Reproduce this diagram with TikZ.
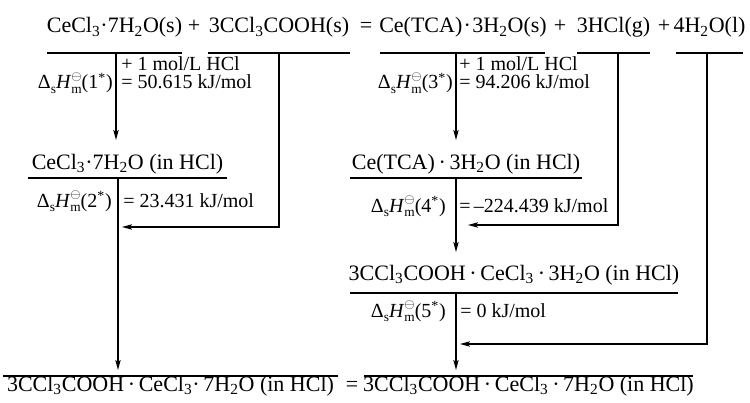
\documentclass[tikz,border=0pt]{standalone}
\usepackage{fontspec}
\setmainfont{Liberation Serif}
\usetikzlibrary{arrows.meta}
\newcommand{\dHm}[1]{Δ\raisebox{-0.22em}{\fontsize{10}{10}\selectfont s}\textit{H}\rlap{\raisebox{0.42em}{\fontsize{10}{10}\selectfont$\ominus$}}\raisebox{-0.22em}{\fontsize{10}{10}\selectfont m}(#1\textsuperscript{*})}
\begin{document}
\begin{tikzpicture}[x=0.75pt,y=-0.75pt,
  big/.style={font=\fontsize{16.5}{18}\selectfont, inner sep=0pt, anchor=base},
  lab/.style={font=\fontsize{15}{17}\selectfont, inner sep=0pt},
  rule/.style={line width=0.9pt},
  conn/.style={line width=0.9pt},
  arr/.style={conn, -{Stealth[length=7.5pt,width=4pt,inset=1.5pt]}}]
\useasboundingbox (0,0) rectangle (750,403);

% top equation
\node[big] (r1) at (114.5,33) {CeCl\textsubscript{3}·7H\textsubscript{2}O(s)};
\node[big] (p1) at (194,33) {+};
\node[big] (r2) at (279,33) {3CCl\textsubscript{3}COOH(s)};
\node[big] (e1) at (366,33) {=};
\node[big] (r3) at (463,33) {Ce(TCA)\kern1pt·\kern1pt3H\textsubscript{2}O(s)};
\node[big] (p2) at (560,33) {+};
\node[big] (r4) at (613.5,33) {3HCl(g)};
\node[big] (p3) at (664,33) {+};
\node[big] (r5) at (709.5,33) {4H\textsubscript{2}O(l)};
\draw[rule] (47,53) -- (182,53);
\draw[rule] (208,53) -- (350,53);
\draw[rule] (380,53) -- (545,53);
\draw[rule] (577,53) -- (650,53);
\draw[rule] (676,53) -- (743,53);

% intermediate species
\node[big] (m1) at (127.5,169) {CeCl\textsubscript{3}·7H\textsubscript{2}O (in HCl)};
\draw[rule] (28,178) -- (227,178);
\node[big] (m2) at (466,169) {Ce(TCA)\,·\,3H\textsubscript{2}O (in HCl)};
\draw[rule] (350,178) -- (582,178);
\node[big] (m3) at (514,280) {3CCl\textsubscript{3}COOH\,·\,CeCl\textsubscript{3}\,·\,3H\textsubscript{2}O (in HCl)};
\draw[rule] (350,293) -- (678,293);

% bottom equation
\node[big] (b1) at (170.5,391) {3CCl\textsubscript{3}COOH\,·\,CeCl\textsubscript{3}·\,7H\textsubscript{2}O (in HCl)};
\node[big] (e2) at (352,391) {=};
\node[big] (b2) at (528.5,391) {3CCl\textsubscript{3}COOH\,·\,CeCl\textsubscript{3}\,·\,7H\textsubscript{2}O (in HCl)};
\draw[rule] (3,376) -- (338,376);
\draw[rule] (364,376) -- (693,376);

% labels
\node[lab, anchor=base west] (l1a) at (121,70) {+ 1 mol/L HCl};
\node[lab, anchor=base west] (l1b) at (121,89) {= 50.615 kJ/mol};
\node[lab, anchor=base east] (l1c) at (113,89) {\dHm{1}};
\node[lab, anchor=base west] (l2b) at (123,207) {= 23.431 kJ/mol};
\node[lab, anchor=base east] (l2c) at (112,207) {\dHm{2}};
\node[lab, anchor=base west] (l3a) at (459,70) {+ 1 mol/L HCl};
\node[lab, anchor=base west] (l3b) at (459,89) {= 94.206 kJ/mol};
\node[lab, anchor=base east] (l3c) at (453,89) {\dHm{3}};
\node[lab, anchor=base west] (l4b) at (459,212) {=\,–224.439 kJ/mol};
\node[lab, anchor=base east] (l4c) at (446,212) {\dHm{4}};
\node[lab, anchor=base west] (l5b) at (460,317) {= 0 kJ/mol};
\node[lab, anchor=base east] (l5c) at (446,317) {\dHm{5}};

% connector coordinates
\coordinate (a1s) at (116,53);  \coordinate (a1e) at (116,140);
\coordinate (a2s) at (279,53);  \coordinate (a2c) at (279,227); \coordinate (a2e) at (122,227);
\coordinate (a3s) at (118,178); \coordinate (a3e) at (118,370);
\coordinate (a4s) at (456,53);  \coordinate (a4e) at (456,140);
\coordinate (a5s) at (618,53);  \coordinate (a5c) at (618,225); \coordinate (a5e) at (468,225);
\coordinate (a6s) at (456,178); \coordinate (a6e) at (456,252);
\coordinate (a7s) at (456,293); \coordinate (a7e) at (456,370);
\coordinate (a8s) at (707,53);  \coordinate (a8c) at (707,344); \coordinate (a8e) at (460,344);

\draw[arr] (a1s) -- (a1e);
\draw[arr] (a2s) -- (a2c) -- (a2e);
\draw[arr] (a3s) -- (a3e);
\draw[arr] (a4s) -- (a4e);
\draw[arr] (a5s) -- (a5c) -- (a5e);
\draw[arr] (a6s) -- (a6e);
\draw[arr] (a7s) -- (a7e);
\draw[arr] (a8s) -- (a8c) -- (a8e);
\end{tikzpicture}
\end{document}
